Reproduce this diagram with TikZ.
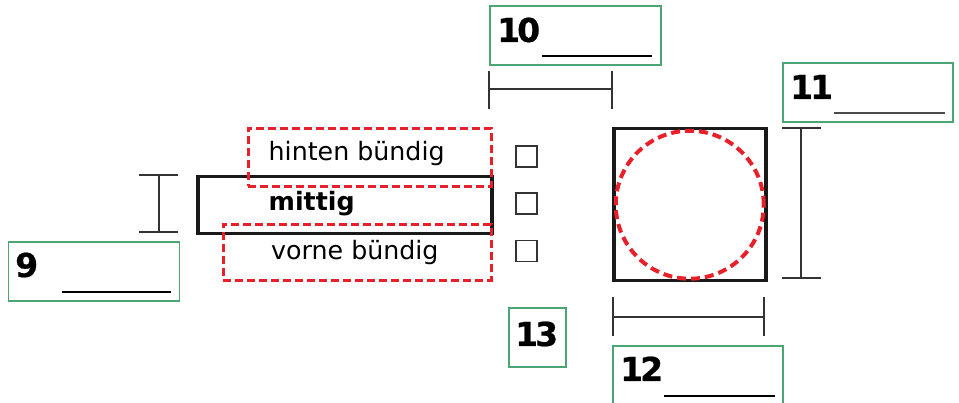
\documentclass[tikz,border=0pt]{standalone}
\usepackage{fontspec}
\setmainfont{DejaVu Sans}
\newfontfamily\numfont{DejaVu Sans}[FakeBold=0.6]
\newcommand{\dg}{\kern-3pt}
\definecolor{boxgreen}{HTML}{4CA673}
\definecolor{dashred}{HTML}{E8202A}
\definecolor{dimgray}{HTML}{333333}
\begin{document}
\begin{tikzpicture}[x=1pt,y=-1pt,
  greenbox/.style={draw=boxgreen,line width=1.8pt,inner sep=0pt,anchor=north west,minimum height=59pt},
  numlabel/.style={anchor=base west,inner sep=0pt,font=\fontsize{33}{36}\numfont\bfseries},
  optlabel/.style={anchor=base west,inner sep=0pt,font=\fontsize{25.3}{28}\selectfont},
  reddash/.style={draw=dashred,line width=2.6pt,dash pattern=on 8pt off 4pt,inner sep=0pt,anchor=north west},
  checkbox/.style={draw=dimgray,line width=1.6pt,minimum size=21pt,inner sep=0pt},
  dimline/.style={draw=dimgray,line width=1.5pt},
  blank/.style={draw=black,line width=1.8pt}]
\useasboundingbox (0,0) rectangle (959,403);

% answer boxes
\node[greenbox,minimum width=171pt] (b9) at (7.5,241) {};
\node[greenbox,minimum width=171pt] (b10) at (489,5) {};
\node[greenbox,minimum width=170pt] (b11) at (782,62) {};
\node[greenbox,minimum width=170pt] (b12) at (612,345) {};
\node[greenbox,minimum width=57pt] (b13) at (508,307) {};

\node[numlabel] (n9) at (15,277) {9};
\node[numlabel] (n10) at (497,42) {1\dg0};
\node[numlabel] (n11) at (790,99) {1\dg1};
\node[numlabel] (n12) at (620,381) {1\dg2};
\node[numlabel] (n13) at (515,346) {1\dg3};

\draw[blank] (62,292) -- (171,292);
\draw[blank] (542,56) -- (652,56);
\draw[blank,draw=black!70] (834,113) -- (945,113);
\draw[blank] (664,396) -- (775,396);

% dimension lines
\draw[dimline] (139,175) -- (178,175) (139,232) -- (178,232) (159,175) -- (159,232);
\draw[dimline] (489,71) -- (489,109) (612,71) -- (612,109) (489,89) -- (612,89);
\draw[dimline] (782,128) -- (821,128) (782,278) -- (821,278) (801,128) -- (801,278);
\draw[dimline] (613,297) -- (613,336) (764,297) -- (764,336) (613,317) -- (764,317);

% option boxes
\node[draw=black!90,line width=3.5pt,inner sep=0pt,anchor=north west,minimum width=294pt,minimum height=57pt] (mid) at (196,175) {};
\node[reddash,minimum width=243pt,minimum height=58pt] (hint) at (247,127) {};
\node[reddash,minimum width=268pt,minimum height=56pt] (vorn) at (222,223) {};

\node[optlabel] (th) at (268.5,161) {hinten bündig};
\node[optlabel,font=\fontsize{25.3}{28}\selectfont\bfseries] (tm) at (268.5,210.5) {mittig};
\node[optlabel] (tv) at (271,260) {vorne bündig};

\node[checkbox] (c1) at (526.5,156.5) {};
\node[checkbox] (c2) at (526.5,203.5) {};
\node[checkbox] (c3) at (526.5,251) {};

% square with circle
\node[draw=black!90,line width=3.5pt,inner sep=0pt,anchor=north west,minimum size=152pt] (sq) at (612,127) {};
\draw[draw=dashred,line width=4pt,dash pattern=on 9pt off 5pt] (sq.center) circle (74pt);
\end{tikzpicture}
\end{document}
